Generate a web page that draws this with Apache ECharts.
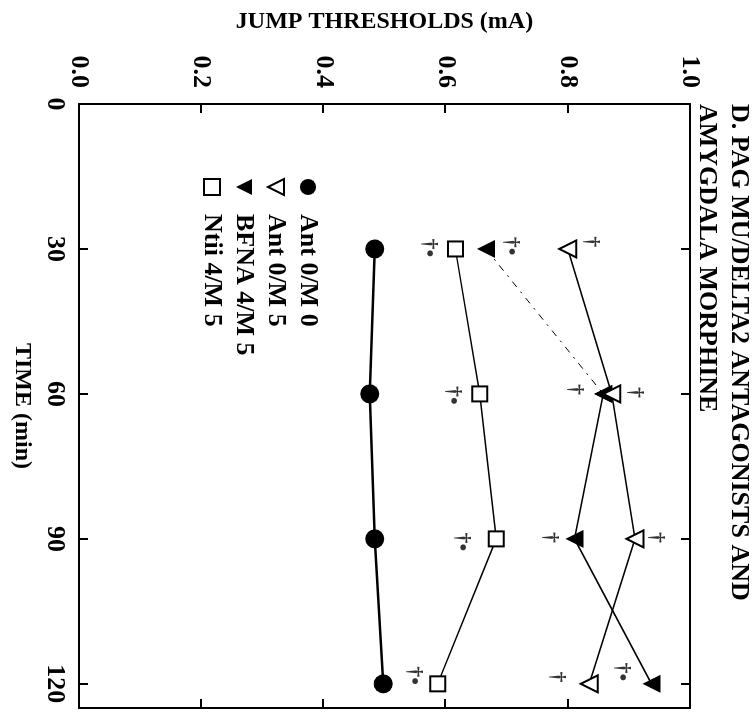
<!DOCTYPE html>
<html><head><meta charset="utf-8">
<script src="https://cdn.jsdelivr.net/npm/echarts@6/dist/echarts.min.js"></script>
<style>
html,body{margin:0;padding:0;width:756px;height:712px;overflow:hidden;background:#fff;}
#chart{position:absolute;left:0;top:0;width:712px;height:756px;transform-origin:0 0;transform:translate(756px,0) rotate(90deg);}
</style></head><body><div id="chart"></div>
<script>
// Data (chart is drawn upright, then the page rotates it 90° clockwise)
const times = [30, 60, 90, 120];
const timeTicks = [0, 30, 60, 90, 120];
const antM0 = [0.484, 0.476, 0.484, 0.498];
const antM5 = [0.80, 0.872, 0.91, 0.835];
const bfnaM5 = [0.666, 0.858, 0.811, 0.937];
const ntiiM5 = [0.616, 0.656, 0.683, 0.587];
const seriesNames = ['Ant 0/M 0', 'Ant 0/M 5', 'BFNA 4/M 5', 'Ntii 4/M 5'];
const annTime = [29.75, 29.4, 28.5, 60.3, 59.1, 59.7, 90.6, 89.7, 89.7, 118.3, 118.6, 117.5];
const annValue = [0.573, 0.707, 0.838, 0.611, 0.811, 0.91, 0.626, 0.77, 0.944, 0.548, 0.782, 0.889];
const annText = ['†•', '†•', '†', '†•', '†', '†', '†•', '†', '†', '†•', '†', '†•'];

const font = '"Liberation Serif", "Times New Roman", serif';
const pts = (vals, from, to) => times.slice(from, to).map((t, i) => [t, vals.slice(from, to)[i]]);
const filled = {color: '#000', borderWidth: 0};
const open = {color: '#fff', borderColor: '#000', borderWidth: 2};
const axisLine = {show: true, onZero: false, lineStyle: {color: '#000', width: 2}};
const tickStyle = {color: '#000', width: 2};
const labelStyle = {fontFamily: font, fontWeight: 'bold', fontSize: 26, color: '#000'};

const chart = echarts.init(document.getElementById('chart'), null, {renderer: 'canvas', width: 712, height: 756});
chart.setOption({
  backgroundColor: '#fff',
  animation: false,
  title: {
    text: 'D. PAG MU/DELTA2 ANTAGONISTS AND\nAMYGDALA MORPHINE',
    left: 104, top: 1, padding: 0,
    textStyle: {fontFamily: font, fontWeight: 'bold', fontSize: 26, lineHeight: 32, color: '#000'}
  },
  legend: {
    orient: 'vertical', left: 176, top: 435, padding: 0,
    itemWidth: 20, itemHeight: 20, itemGap: 6,
    lineStyle: {opacity: 0},
    textStyle: {fontFamily: font, fontWeight: 'bold', fontSize: 26, color: '#000', padding: [0, 0, 0, 12]},
    data: [
      {name: seriesNames[0], itemStyle: filled},
      {name: seriesNames[1], itemStyle: open, symbolRotate: 180},
      {name: seriesNames[2], itemStyle: filled, symbolRotate: 180},
      {name: seriesNames[3], itemStyle: open}
    ]
  },
  grid: {left: 104, right: 4, top: 66, bottom: 79, containLabel: false, outerBoundsMode: 'none'},
  xAxis: [{
    type: 'value', position: 'bottom', min: 0, max: 125,
    name: 'TIME (min)', nameLocation: 'middle', nameGap: 45,
    nameTextStyle: {fontFamily: font, fontWeight: 'bold', fontSize: 24, color: '#000'},
    axisLine: axisLine,
    axisTick: {show: true, inside: true, length: 9, lineStyle: tickStyle, customValues: timeTicks},
    axisLabel: Object.assign({show: true, margin: 11, customValues: timeTicks}, labelStyle),
    splitLine: {show: false}
  }, {
    type: 'value', position: 'top', min: 0, max: 125,
    axisLine: axisLine,
    axisTick: {show: true, inside: true, length: 9, lineStyle: tickStyle, customValues: timeTicks},
    axisLabel: {show: false}, splitLine: {show: false}
  }],
  yAxis: [{
    type: 'value', position: 'left', min: 0, max: 1, interval: 0.2,
    name: 'JUMP THRESHOLDS (mA)', nameLocation: 'middle', nameGap: 70, nameRotate: 90,
    nameTextStyle: {fontFamily: font, fontWeight: 'bold', fontSize: 24, color: '#000'},
    axisLine: axisLine,
    axisTick: {show: true, inside: true, length: 9, lineStyle: tickStyle},
    axisLabel: Object.assign({show: true, margin: 16, formatter: v => v.toFixed(1)}, labelStyle),
    splitLine: {show: false}
  }, {
    type: 'value', position: 'right', min: 0, max: 1, interval: 0.2,
    axisLine: axisLine,
    axisTick: {show: true, inside: true, length: 9, lineStyle: tickStyle},
    axisLabel: {show: false}, splitLine: {show: false}
  }],
  series: [
    {name: seriesNames[3], type: 'line', data: pts(ntiiM5, 0, 4), symbol: 'rect', symbolSize: 15,
     itemStyle: open, lineStyle: {color: '#000', width: 1.5}, z: 3},
    {name: seriesNames[2], type: 'line', data: pts(bfnaM5, 1, 4), symbol: 'triangle', symbolRotate: 180, symbolSize: 18,
     itemStyle: filled, lineStyle: {color: '#000', width: 1.5}, z: 3},
    {name: seriesNames[2], type: 'line', data: pts(bfnaM5, 0, 2), symbol: 'triangle', symbolRotate: 180, symbolSize: 18,
     itemStyle: filled, lineStyle: {color: '#000', width: 1, type: [7, 6, 2, 6]}, z: 3},
    {name: seriesNames[1], type: 'line', data: pts(antM5, 0, 4), symbol: 'triangle', symbolRotate: 180, symbolSize: 17,
     itemStyle: open, lineStyle: {color: '#000', width: 1.5}, z: 3},
    {name: seriesNames[0], type: 'line', data: pts(antM0, 0, 4), symbol: 'circle', symbolSize: 19,
     itemStyle: filled, lineStyle: {color: '#000', width: 2.5}, z: 4},
    {name: 'sig', type: 'scatter', silent: true, symbolSize: 1, itemStyle: {color: 'rgba(0,0,0,0)'},
     data: annTime.map((t, i) => ({value: [t, annValue[i]], name: annText[i]})),
     label: {show: true, position: 'inside', formatter: '{b}', fontFamily: font, fontWeight: 'bold', fontSize: 22, color: '#000'}, z: 5}
  ]
});
</script></body></html>
